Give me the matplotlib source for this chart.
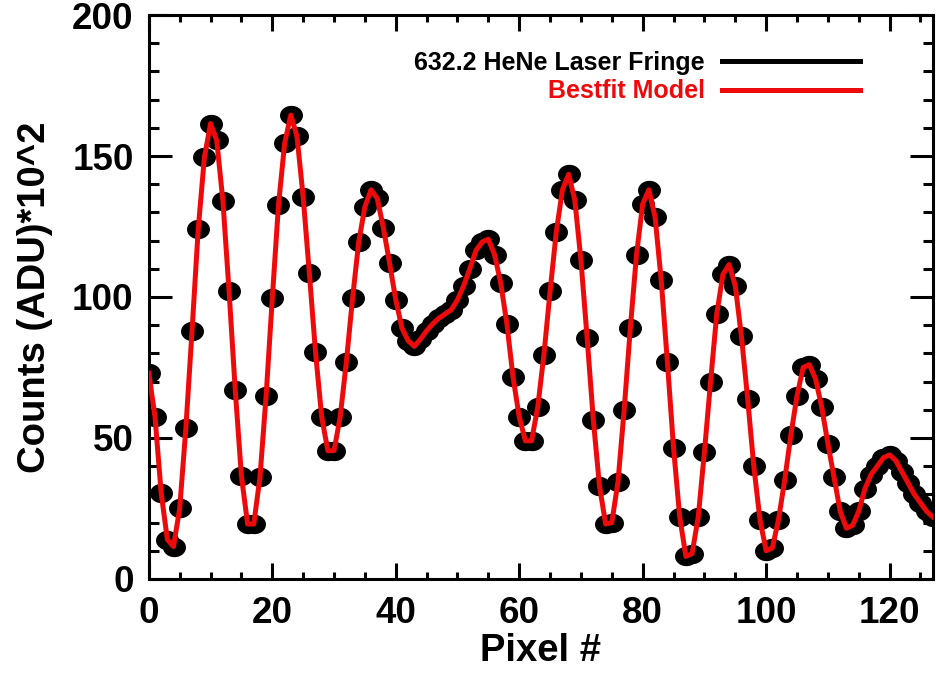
import numpy as np
import matplotlib
matplotlib.use('Agg')
import matplotlib.pyplot as plt
from matplotlib.lines import Line2D
from matplotlib.ticker import MultipleLocator

# pixel index along the detector row
pixel = np.arange(128)

# counts (ADU / 100)
counts = [73, 57.5, 30.5, 14, 11.5, 25, 53.5, 88, 124, 149.5,
          161.5, 155.5, 134, 102, 67, 36.5, 19.5, 19.5, 36, 65,
          99.5, 132.5, 154.5, 164.5, 157, 135.5, 108.5, 80.5, 57.5, 45.5,
          45.5, 57.5, 77, 99.5, 119.5, 132, 138, 135, 124.5, 112,
          99, 89, 84.5, 82.5, 85, 88, 90.5, 92.5, 94, 95.5,
          99, 104, 110, 116.5, 119.5, 120.5, 115, 105, 90.5, 71.5,
          57.5, 49, 49, 61, 79.5, 102, 123, 138, 143.5, 134.5,
          113, 85.5, 56.5, 33, 19.5, 20, 34.5, 60, 89, 115,
          133, 138, 128.5, 106, 77, 46.5, 22, 8, 9, 22,
          45, 70, 94, 108, 111.5, 104, 86, 64, 40, 21,
          10, 11, 21, 35, 51, 65, 75, 76, 71, 61,
          48, 36, 24, 18, 19, 24, 32, 37, 40, 43,
          44, 42, 38, 34, 30, 27, 24, 22]

fringe_label = '632.2 HeNe Laser Fringe'
model_label = 'Bestfit Model'
red = '#ee0a0a'

plt.rcParams['font.family'] = ['Liberation Sans', 'DejaVu Sans']
plt.rcParams['font.weight'] = 'bold'

fig = plt.figure(figsize=(9.36, 6.73), dpi=100)
ax = fig.add_axes([0.159, 0.1397, 0.8376, 0.838])

# slightly wide ellipse marker, like the stretched dots of the original
theta = np.linspace(0, 2 * np.pi, 60)
ellipse = np.column_stack([1.2 * np.cos(theta), np.sin(theta)])

ax.plot(pixel, counts, linestyle='none', marker=ellipse, markersize=15.5,
        color='black', zorder=2)
ax.plot(pixel, counts, color=red, lw=3.6, zorder=3)

ax.set_xlim(0, 127)
ax.set_ylim(0, 200)
ax.xaxis.set_major_locator(MultipleLocator(20))
ax.xaxis.set_minor_locator(MultipleLocator(5))
ax.yaxis.set_major_locator(MultipleLocator(50))
ax.yaxis.set_minor_locator(MultipleLocator(10))

ax.tick_params(which='both', direction='in', top=True, right=True,
               width=2.2, labelsize=26.5)
ax.tick_params(axis='x', which='major', length=11.5, pad=12)
ax.tick_params(axis='x', which='minor', length=5.3)
ax.tick_params(axis='y', which='major', length=16.5, pad=11)
ax.tick_params(axis='y', which='minor', length=7.5)
for sp in ax.spines.values():
    sp.set_linewidth(2.2)

ax.set_xlabel('Pixel #', fontsize=27.5, fontweight='bold', labelpad=2)
ax.set_ylabel('Counts (ADU)*10^2', fontsize=27.5, fontweight='bold', labelpad=14)

handles = [Line2D([], [], color='black', lw=3.6, label=fringe_label),
           Line2D([], [], color=red, lw=3.6, label=model_label)]
ax.legend(handles=handles, loc='upper right', bbox_to_anchor=(0.907, 0.936),
          frameon=False, markerfirst=False, handlelength=5.5,
          handletextpad=0.7, labelspacing=0.17, borderpad=0,
          borderaxespad=0, labelcolor=['black', red],
          prop={'weight': 'bold', 'size': 18})

fig.savefig('out.png', dpi=100)
